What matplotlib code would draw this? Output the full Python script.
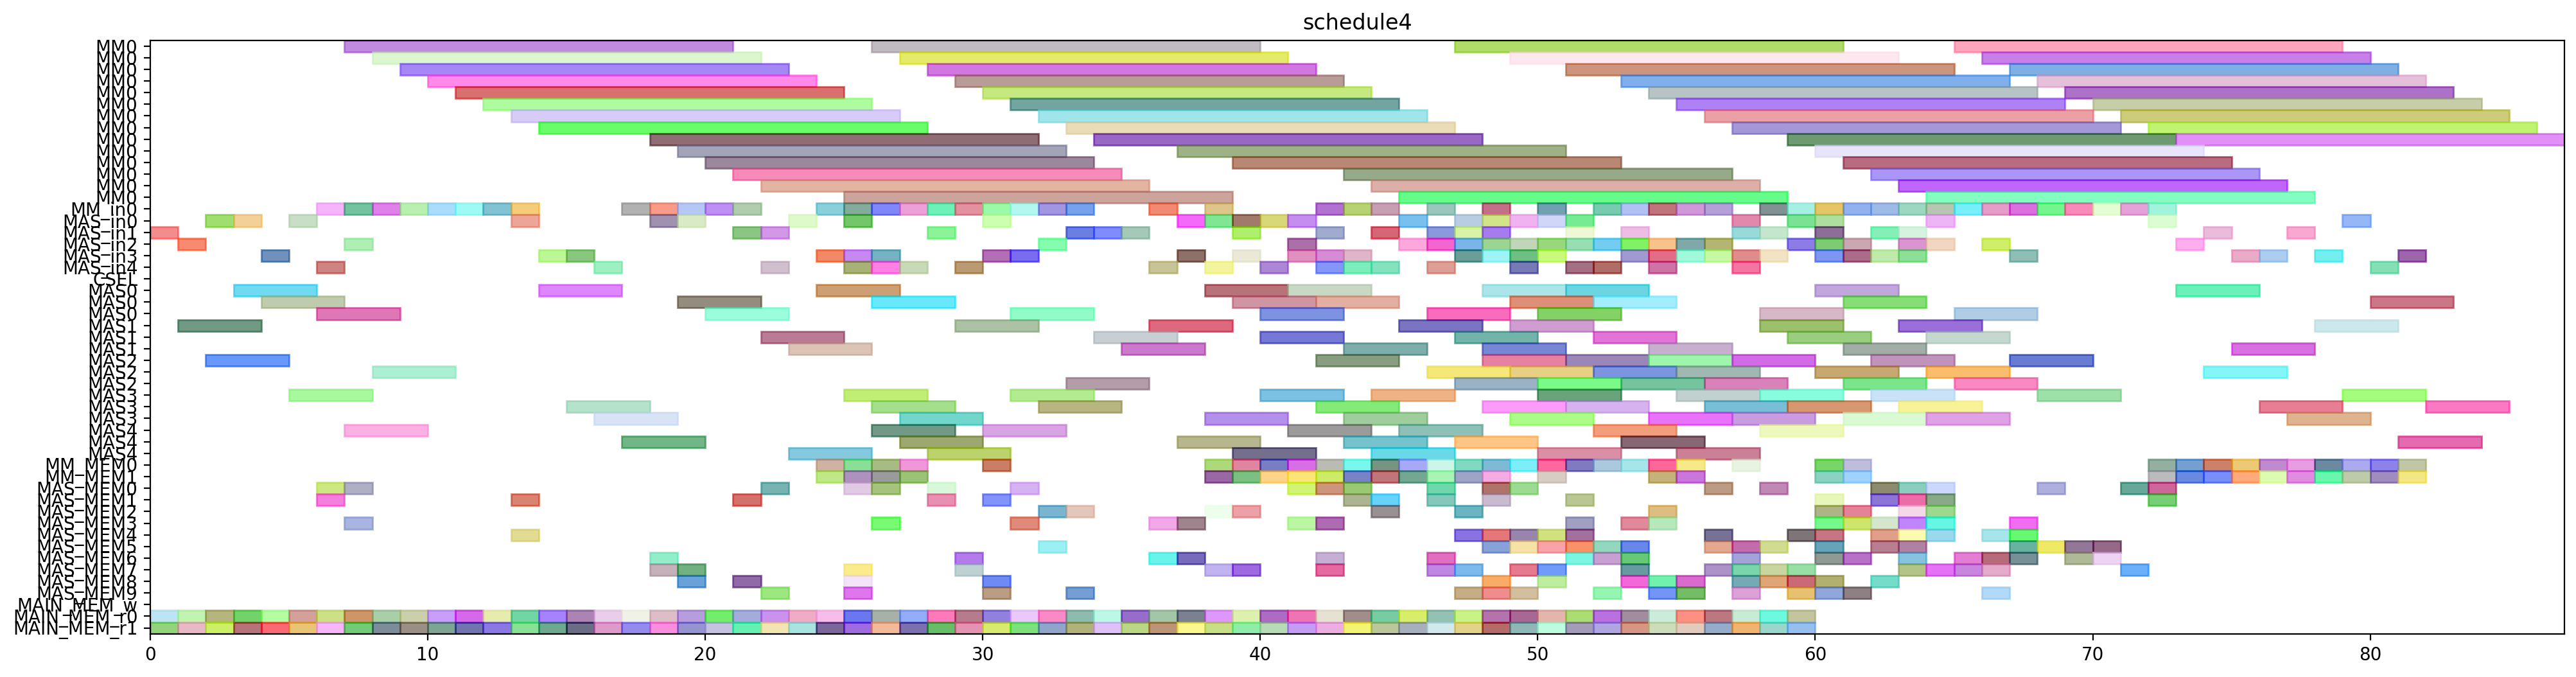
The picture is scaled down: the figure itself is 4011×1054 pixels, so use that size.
"""
plot.py
-------
Gantt-style schedule chart ("schedule4").
Every row is a unit (MM, MAS, memories ...) and every bar a task slot.
"""

import numpy as np
import matplotlib
matplotlib.use("Agg")
import matplotlib.pyplot as plt
import matplotlib.colors as mcolors

# ============================================================
# DATA
# ============================================================

ROW_LABELS = (
    ["MM0"] * 14
    + ["MM_in0", "MAS_in0", "MAS_in1", "MAS_in2", "MAS_in3", "MAS_in4", "CSEL"]
    + ["MAS0"] * 3 + ["MAS1"] * 3 + ["MAS2"] * 3 + ["MAS3"] * 3 + ["MAS4"] * 3
    + ["MM_MEM0", "MM_MEM1"]
    + [f"MAS_MEM{i}" for i in range(10)]
    + ["MAIN_MEM_w", "MAIN_MEM_r0", "MAIN_MEM_r1"]
)

# MM0 rows: long tasks of 14 time units
MM0_DUR = 14
MM0_STARTS = [
    [7, 26, 47, 65],
    [8, 27, 49, 66],
    [9, 28, 51, 67],
    [10, 29, 53, 68],
    [11, 30, 54, 69],
    [12, 31, 55, 70],
    [13, 32, 56, 71],
    [14, 33, 57, 72],
    [18, 34, 59, 73],
    [19, 37, 60],
    [20, 39, 61],
    [21, 43, 62],
    [22, 44, 63],
    [25, 45, 64],
]

# inputs, one unit each
MM_IN0 = [6, 7, 8, 9, 10, 11, 12, 13, 17, 18, 19, 20, 21, 24, 25, 26, 27, 28,
          29, 30, 31, 32, 33, 36, 38, 42, 43, 44, 46, 48, 50, 52, 53, 54, 55,
          56, 58, 59, 60, 61, 62, 63, 64, 65, 66, 67, 68, 69, 70, 71, 72]

MAS_IN = [
    [2, 3, 5, 13, 18, 19, 23, 25, 30, 37, 38, 39, 40, 41, 45, 47, 48, 49, 50,
     51, 57, 59, 60, 64, 72, 79],
    [0, 21, 22, 28, 33, 34, 35, 39, 42, 44, 46, 47, 48, 51, 53, 57, 58, 60, 62,
     63, 74, 77],
    [1, 7, 32, 41, 45, 46, 47, 48, 49, 50, 51, 52, 53, 54, 55, 56, 59, 60, 61,
     63, 64, 66, 73],
    [4, 14, 15, 24, 25, 26, 30, 31, 37, 39, 41, 42, 43, 47, 48, 49, 50, 53, 54,
     55, 56, 57, 58, 60, 61, 62, 63, 67, 75, 76, 78, 81],
    [6, 16, 22, 25, 26, 27, 29, 36, 38, 40, 42, 43, 44, 46, 49, 51, 52, 54, 57,
     80],
]

CSEL = []

# MAS rows: tasks of 3 time units
MAS_DUR = 3
MAS_STARTS = [
    [3, 14, 24, 38, 41, 48, 51, 60, 73],
    [4, 19, 26, 39, 42, 49, 52, 61, 80],
    [6, 20, 31, 40, 46, 50, 58, 65],
    [1, 29, 36, 45, 49, 58, 63, 78],
    [22, 34, 40, 47, 52, 59, 64],
    [23, 35, 43, 48, 54, 61, 75],
    [2, 42, 48, 51, 54, 57, 62, 67],
    [8, 46, 49, 52, 55, 60, 64, 74],
    [33, 47, 50, 53, 56, 61, 65],
    [5, 25, 31, 40, 44, 50, 55, 58, 62, 68, 79],
    [15, 26, 32, 42, 48, 51, 56, 59, 63, 76, 82],
    [16, 27, 38, 43, 49, 54, 57, 61, 64, 77],
    [7, 26, 30, 41, 45, 52, 58],
    [17, 27, 37, 43, 47, 53, 81],
    [23, 28, 39, 44, 50, 55],
]

MM_MEM = [
    [24, 25, 26, 27, 30, 38, 39, 40, 41, 42, 43, 44, 45, 46, 47, 48, 49, 50,
     51, 52, 53, 54, 55, 57, 60, 61, 72, 73, 74, 75, 76, 77, 78, 79, 80, 81],
    [24, 25, 26, 27, 38, 39, 40, 41, 42, 43, 44, 45, 46, 47, 48, 50, 54, 55,
     60, 61, 72, 73, 74, 75, 76, 77, 78, 79, 80, 81],
]

MAS_MEM = [
    [6, 7, 22, 25, 26, 28, 31, 41, 42, 43, 46, 48, 49, 56, 58, 62, 63, 64, 68,
     71, 72],
    [6, 13, 21, 28, 30, 43, 44, 46, 48, 51, 60, 62, 63, 64, 72],
    [32, 33, 38, 39, 44, 47, 54, 60, 61, 63, 64],
    [7, 26, 31, 36, 37, 41, 42, 51, 53, 54, 60, 61, 62, 63, 64, 67],
    [13, 47, 48, 49, 50, 51, 56, 59, 60, 62, 63, 64, 66, 67],
    [32, 48, 49, 50, 51, 52, 53, 56, 57, 58, 60, 62, 63, 67, 68, 69, 70],
    [18, 29, 36, 37, 42, 46, 51, 52, 53, 57, 60, 61, 63, 65, 66, 67, 69, 70],
    [18, 19, 25, 29, 38, 39, 42, 46, 47, 49, 50, 53, 56, 57, 58, 59, 63, 64,
     65, 66, 71],
    [19, 21, 25, 30, 48, 50, 53, 54, 55, 57, 58, 59, 60, 62],
    [22, 25, 30, 33, 47, 48, 49, 52, 54, 55, 57, 59, 60, 61, 66],
]

MAIN_MEM_W = []

MAIN_MEM_R0 = [0, 1, 2, 3, 4, 5, 6, 7, 8, 9, 10, 11, 12, 13, 14, 15, 16, 17,
               18, 19, 20, 21, 22, 23, 24, 25, 26, 27, 28, 29, 30, 31, 32, 33,
               34, 35, 36, 37, 38, 39, 40, 41, 42, 43, 44, 45, 46, 47, 48, 49,
               50, 51, 52, 53, 54, 55, 56, 57, 58, 59]

MAIN_MEM_R1 = [0, 1, 2, 3, 4, 5, 6, 7, 8, 9, 10, 11, 12, 13, 14, 15, 16, 17,
               18, 19, 20, 21, 22, 23, 24, 25, 26, 27, 28, 29, 30, 31, 32, 33,
               34, 35, 36, 37, 38, 39, 40, 41, 42, 43, 44, 45, 46, 47, 48, 49,
               50, 51, 52, 53, 54, 55, 56, 57, 58, 59]

UNIT_DUR = 1
X_MAX = 87

# ============================================================
# STYLE
# ============================================================

ALPHA = 0.6

# colours of the long MM0 bars as they look on the white background
MM0_SEEN_COLORS = [
    ["#c08ae0", "#c0bcc0", "#b0dc6a", "#fca6be"],
    ["#dcf6d0", "#e4ea6a", "#fde8f0", "#c880e8"],
    ["#a688f4", "#d078e0", "#cc967e", "#80b0e4"],
    ["#ff8aea", "#b89c98", "#80b0ec", "#e6c0da"],
    ["#d87070", "#c6e880", "#b8c4c4", "#ac72c8"],
    ["#b0fca0", "#74a4a0", "#ae82f4", "#c6ceaa"],
    ["#d6ccf8", "#a0e6ea", "#eca0a6", "#cecc7a"],
    ["#6afe6a", "#ecdcb8", "#a498d8", "#c0f470"],
    ["#8e6e74", "#9868c4", "#6e9a72", "#e290f8"],
    ["#a4a4b8", "#9eb286", "#e8e4fc"],
    ["#9c889c", "#b88874", "#b86c80"],
    ["#f68ab8", "#96aa88", "#aa96f8"],
    ["#e4b4a2", "#dcb0aa", "#c066fc"],
    ["#cca49c", "#66fc8a", "#84fec0"],
]

# the small task bars carry arbitrary colours
rng = np.random.default_rng(4)


def base_color(seen):
    # undo the alpha blend over white
    rgb = np.array(mcolors.to_rgb(seen))
    return tuple(np.clip(1.0 - (1.0 - rgb) / ALPHA, 0.0, 1.0))


# ============================================================
# PLOT
# ============================================================

fig = plt.figure(figsize=(20.06, 5.27), dpi=200)
ax = fig.add_axes([0.0583, 0.0639, 0.9370, 0.8766])


def draw_row(row, starts, dur, colors=None):

    if not starts:
        return

    if colors is None:
        colors = [tuple(rng.random(3)) for _ in starts]

    ax.barh(
        [row] * len(starts),
        [dur] * len(starts),
        left=starts,
        height=1.0,
        color=colors,
        edgecolor=colors,
        linewidth=1.0,
        alpha=ALPHA
    )


row = 0

for starts, seen in zip(MM0_STARTS, MM0_SEEN_COLORS):
    draw_row(row, starts, MM0_DUR, [base_color(c) for c in seen])
    row += 1

draw_row(row, MM_IN0, UNIT_DUR)
row += 1

for starts in MAS_IN:
    draw_row(row, starts, UNIT_DUR)
    row += 1

draw_row(row, CSEL, UNIT_DUR)
row += 1

for starts in MAS_STARTS:
    draw_row(row, starts, MAS_DUR)
    row += 1

for starts in MM_MEM:
    draw_row(row, starts, UNIT_DUR)
    row += 1

for starts in MAS_MEM:
    draw_row(row, starts, UNIT_DUR)
    row += 1

for starts in [MAIN_MEM_W, MAIN_MEM_R0, MAIN_MEM_R1]:
    draw_row(row, starts, UNIT_DUR)
    row += 1

# ------------------------------------------------------------
# Axes
# ------------------------------------------------------------

ax.set_yticks(range(len(ROW_LABELS)))
ax.set_yticklabels(ROW_LABELS, fontsize=10)

ax.set_ylim(len(ROW_LABELS) - 0.5, -0.5)
ax.set_xlim(0, X_MAX)

ax.set_title("schedule4")

fig.savefig("out.png", dpi=200)
plt.close(fig)
